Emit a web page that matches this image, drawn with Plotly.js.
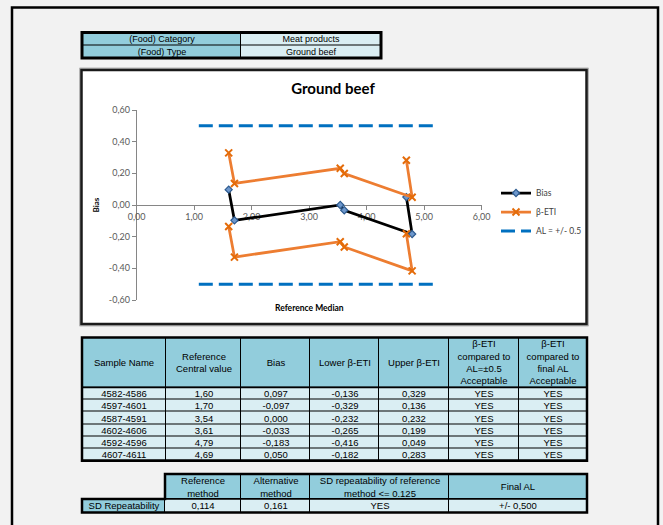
<!DOCTYPE html>
<html>
<head>
<meta charset="utf-8">
<script src="https://cdn.plot.ly/plotly-3.0.1.min.js"></script>
<style>
html,body{margin:0;padding:0;background:#f2f2f2;}
#chart{width:663px;height:525px;}
</style>
</head>
<body>
<div id="chart"></div>
<script>
// ---------------- data ----------------
const foodInfoLabels = ['(Food) Category', '(Food) Type'];
const foodInfoValues = ['Meat products', 'Ground beef'];

const sampleNames = ['4582-4586', '4597-4601', '4587-4591', '4602-4606', '4592-4596', '4607-4611'];
const refCentral = [1.60, 1.70, 3.54, 3.61, 4.79, 4.69];
const bias = [0.097, -0.097, 0.000, -0.033, -0.183, 0.050];
const lowerETI = [-0.136, -0.329, -0.232, -0.265, -0.416, -0.182];
const upperETI = [0.329, 0.136, 0.232, 0.199, 0.049, 0.283];
const acceptAL = ['YES', 'YES', 'YES', 'YES', 'YES', 'YES'];
const acceptFinalAL = ['YES', 'YES', 'YES', 'YES', 'YES', 'YES'];

const mainHeaders = ['Sample Name', 'Reference<br>Central value', 'Bias', 'Lower β-ETI', 'Upper β-ETI',
  'β-ETI<br>compared to<br>AL=±0.5<br>Acceptable', 'β-ETI<br>compared to<br>final AL<br>Acceptable'];

const alLimit = 0.5;
const alX = [1.08, 5.17];

const sdRowLabel = 'SD Repeatability';
const sdHeaders = ['Reference<br>method', 'Alternative<br>method', 'SD repeatability of reference<br>method &lt;= 0.125', 'Final AL'];
const sdReference = 0.114;
const sdAlternative = 0.161;
const sdCheck = 'YES';
const finalAL = 0.5;

const chartTitle = 'Ground beef';
const xTitle = 'Reference Median';
const yTitle = 'Bias';
const xTickVals = [0, 1, 2, 3, 4, 5, 6];
const yTickVals = [-0.6, -0.4, -0.2, 0, 0.2, 0.4, 0.6];

// ---------------- helpers ----------------
const W = 663, H = 525;
const fx = v => v / W;
const fy = v => 1 - v / H;
const dec = (v, n) => v.toFixed(n).replace('.', ',');
const chartFont = 'Lato, "Noto Sans", sans-serif';
const tableFont = '"Liberation Sans", Arial, sans-serif';
const HEAD = '#92cddc', CELL = '#daeef3';
const PAD = 3;

function cum(sizes) { const e = [0]; sizes.forEach(s => e.push(e[e.length - 1] + s)); return e; }

function tableLayer(n, left, top, colW, rowH, z, text, fontSize) {
  const xe = cum(colW), ye = cum(rowH);
  const tw = xe[xe.length - 1], th = ye[ye.length - 1];
  const trace = {
    type: 'heatmap', xaxis: 'x' + n, yaxis: 'y' + n, x: xe, y: ye, z: z, text: text,
    texttemplate: '%{text}', textfont: {family: tableFont, size: fontSize, color: '#000'},
    colorscale: [[0, HEAD], [1, CELL]], zmin: 0, zmax: 1, showscale: false,
    xgap: 1, ygap: 1, hoverinfo: 'skip', showlegend: false
  };
  const xa = {domain: [fx(left - PAD), fx(left + tw + PAD)], range: [-PAD, tw + PAD], visible: false, fixedrange: true, anchor: 'y' + n};
  const ya = {domain: [fy(top + th + PAD), fy(top - PAD)], range: [th + PAD, -PAD], visible: false, fixedrange: true, anchor: 'x' + n};
  return {trace, xa, ya, tw, th, xe, ye};
}

// ---------------- tables ----------------
const topT = tableLayer(2, 82, 32.5, [159, 140], [12.5, 13],
  foodInfoLabels.map(() => [0, 1]),
  foodInfoLabels.map((l, i) => [l, foodInfoValues[i]]), 9);

const mainRows = sampleNames.map((s, i) => [s, dec(refCentral[i], 2), dec(bias[i], 3), dec(lowerETI[i], 3),
  dec(upperETI[i], 3), acceptAL[i], acceptFinalAL[i]]);
const mainT = tableLayer(3, 82, 337.5, [84, 75, 69, 69, 70, 70, 68], [50].concat(sampleNames.map(() => 12.2)),
  [mainHeaders.map(() => 0)].concat(sampleNames.map(() => mainHeaders.map(() => 1))),
  [mainHeaders].concat(mainRows), 9.5);

const sdT = tableLayer(4, 82, 474, [83, 76, 69, 139, 138], [25, 13.5],
  [[null, 0, 0, 0, 0], [0, 1, 1, 1, 1]],
  [[''].concat(sdHeaders), [sdRowLabel, dec(sdReference, 3), dec(sdAlternative, 3), sdCheck, '+/- ' + dec(finalAL, 3)]], 9.5);

// ---------------- chart traces ----------------
const chartTraces = [
  {type: 'scatter', mode: 'lines+markers', name: 'Bias', x: refCentral, y: bias,
   line: {color: '#000000', width: 2.75},
   marker: {symbol: 'diamond', size: 5.5, color: '#6d97cc', line: {color: '#2c5a8f', width: 1.2}}, hoverinfo: 'skip'},
  {type: 'scatter', mode: 'lines+markers', name: 'β-ETI', legendgroup: 'eti', x: refCentral, y: upperETI,
   line: {color: '#ed7d31', width: 2.75},
   marker: {symbol: 'x-thin', size: 7, color: '#e46c0a', line: {color: '#e46c0a', width: 2}}, hoverinfo: 'skip'},
  {type: 'scatter', mode: 'lines+markers', name: 'β-ETI', legendgroup: 'eti', showlegend: false, x: refCentral, y: lowerETI,
   line: {color: '#ed7d31', width: 2.75},
   marker: {symbol: 'x-thin', size: 7, color: '#e46c0a', line: {color: '#e46c0a', width: 2}}, hoverinfo: 'skip'},
  {type: 'scatter', mode: 'lines', name: 'AL = +/- 0.5', legendgroup: 'al', x: alX, y: [alLimit, alLimit],
   line: {color: '#0070c0', width: 3, dash: '14px,6px'}, hoverinfo: 'skip'},
  {type: 'scatter', mode: 'lines', name: 'AL = +/- 0.5', legendgroup: 'al', showlegend: false, x: alX, y: [-alLimit, -alLimit],
   line: {color: '#0070c0', width: 3, dash: '14px,6px'}, hoverinfo: 'skip'}
];

const tickFont = {family: chartFont, size: 9, color: '#595959'};

const shapes = [
  // outer sheet frame
  {type: 'rect', xref: 'paper', yref: 'paper', x0: fx(12), x1: fx(658), y0: fy(545), y1: fy(7.5),
   line: {color: '#000', width: 2.5}, fillcolor: 'rgba(0,0,0,0)', layer: 'below'},
  // chart box
  {type: 'rect', xref: 'paper', yref: 'paper', x0: fx(79.5), x1: fx(588.5), y0: fy(326), y1: fy(68),
   line: {color: '#b5b5b5', width: 1}, fillcolor: '#b5b5b5', layer: 'below'},
  {type: 'rect', xref: 'paper', yref: 'paper', x0: fx(81.5), x1: fx(586.5), y0: fy(324), y1: fy(70),
   line: {color: '#1a1a1a', width: 2.5}, fillcolor: '#ffffff', layer: 'below'},
  // top table
  {type: 'rect', xref: 'x2', yref: 'y2', x0: 0, x1: topT.tw, y0: 0, y1: topT.th, fillcolor: '#000', line: {width: 0}, layer: 'below'},
  {type: 'rect', xref: 'x2', yref: 'y2', x0: 0, x1: topT.tw, y0: 0, y1: topT.th, fillcolor: 'rgba(0,0,0,0)', line: {color: '#000', width: 3}, layer: 'above'},
  // main table
  {type: 'rect', xref: 'x3', yref: 'y3', x0: 0, x1: mainT.tw, y0: 0, y1: mainT.th, fillcolor: '#000', line: {width: 0}, layer: 'below'},
  {type: 'rect', xref: 'x3', yref: 'y3', x0: 0, x1: mainT.tw, y0: 0, y1: mainT.th, fillcolor: 'rgba(0,0,0,0)', line: {color: '#000', width: 2.5}, layer: 'above'},
  {type: 'line', xref: 'x3', yref: 'y3', x0: 0, x1: mainT.tw, y0: mainT.ye[1], y1: mainT.ye[1], line: {color: '#000', width: 1.5}, layer: 'above'},
  // SD table (L-shaped)
  {type: 'path', xref: 'x4', yref: 'y4',
   path: 'M' + sdT.xe[1] + ',0 H' + sdT.tw + ' V' + sdT.th + ' H0 V' + sdT.ye[1] + ' H' + sdT.xe[1] + ' Z',
   fillcolor: '#000', line: {width: 0}, layer: 'below'},
  {type: 'path', xref: 'x4', yref: 'y4',
   path: 'M' + sdT.xe[1] + ',0 H' + sdT.tw + ' V' + sdT.th + ' H0 V' + sdT.ye[1] + ' H' + sdT.xe[1] + ' Z',
   fillcolor: 'rgba(0,0,0,0)', line: {color: '#000', width: 2.5}, layer: 'above'},
  {type: 'line', xref: 'x4', yref: 'y4', x0: sdT.xe[1], x1: sdT.tw, y0: sdT.ye[1], y1: sdT.ye[1], line: {color: '#000', width: 1.5}, layer: 'above'}
];

const layout = {
  width: W, height: H,
  margin: {l: 0, r: 0, t: 0, b: 0, pad: 0},
  paper_bgcolor: '#f2f2f2',
  plot_bgcolor: 'rgba(0,0,0,0)',
  hovermode: false,
  title: {text: chartTitle, x: fx(333), xref: 'paper', xanchor: 'center', y: fy(89), yref: 'paper', yanchor: 'middle',
          font: {family: chartFont, size: 15, weight: 'bold', color: '#000'}},
  xaxis: {domain: [fx(136.7), fx(481.7)], range: [0, 6], anchor: 'free', position: fy(204.5),
          tickmode: 'array', tickvals: xTickVals, ticktext: xTickVals.map(v => dec(v, 2)),
          ticks: 'outside', ticklen: 4, tickcolor: '#868686', showline: true, linecolor: '#868686', linewidth: 1,
          showgrid: false, zeroline: false, tickfont: tickFont, layer: 'below traces', fixedrange: true},
  yaxis: {domain: [fy(300), fy(110)], range: [-0.6, 0.6], anchor: 'x',
          tickmode: 'array', tickvals: yTickVals, ticktext: yTickVals.map(v => dec(v, 2)),
          ticks: 'outside', ticklen: 4, tickcolor: '#868686', showline: true, linecolor: '#868686', linewidth: 1,
          showgrid: false, zeroline: false, tickfont: tickFont, layer: 'below traces', fixedrange: true,
          title: {text: yTitle, font: {family: chartFont, size: 8, weight: 'bold', color: '#000'}, standoff: 8}},
  xaxis2: topT.xa, yaxis2: topT.ya,
  xaxis3: mainT.xa, yaxis3: mainT.ya,
  xaxis4: sdT.xa, yaxis4: sdT.ya,
  legend: {x: fx(496), xanchor: 'left', y: fy(212), yanchor: 'middle', bgcolor: 'rgba(0,0,0,0)',
           font: {family: chartFont, size: 8.5, color: '#404040'}, itemwidth: 30, tracegroupgap: 0},
  annotations: [
    {text: xTitle, xref: 'paper', yref: 'paper', x: fx(309), y: fy(308), xanchor: 'center', yanchor: 'middle',
     showarrow: false, font: {family: chartFont, size: 8.5, weight: 'bold', color: '#000'}}
  ],
  shapes: shapes
};

Plotly.newPlot('chart', chartTraces.concat([topT.trace, mainT.trace, sdT.trace]), layout,
  {displayModeBar: false, staticPlot: true});
</script>
</body>
</html>
